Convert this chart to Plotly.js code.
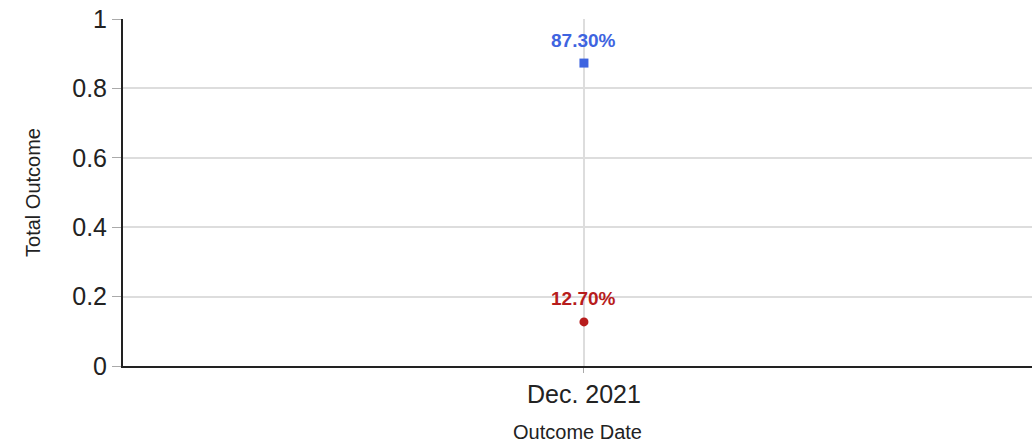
<!DOCTYPE html>
<html>
<head>
<meta charset="utf-8">
<script src="https://cdn.plot.ly/plotly-3.0.1.min.js"></script>
<style>html,body{margin:0;padding:0;background:#fff;}#chart{width:1032px;height:447px;}</style>
</head>
<body>
<div id="chart"></div>
<script>
const categories = ["Dec. 2021"];
const seriesA = [0.873];
const seriesB = [0.127];
const labelsA = ["87.30%"];
const labelsB = ["12.70%"];
const yTickVals = [0, 0.2, 0.4, 0.6, 0.8, 1];
const yTickText = ["0", "0.2", "0.4", "0.6", "0.8", "1"];

const font = "Liberation Sans, Arial, sans-serif";
const colorA = "#3e64e0";
const colorB = "#b71c1c";
const traces = [
  {
    x: categories, y: seriesA, type: "scatter", mode: "markers",
    marker: {symbol: "square", size: 9, color: colorA},
    cliponaxis: false, showlegend: false, hoverinfo: "none"
  },
  {
    x: categories, y: seriesB, type: "scatter", mode: "markers",
    marker: {symbol: "circle", size: 9, color: colorB},
    cliponaxis: false, showlegend: false, hoverinfo: "none"
  }
];
function labelAnnotations(xs, ys, texts, color) {
  return xs.map((x, i) => ({
    x: x, y: ys[i], text: texts[i], xref: "x", yref: "y",
    showarrow: false, yshift: 23,
    font: {family: font, size: 19, color: color, weight: "bold"}
  }));
}
const annotations = labelAnnotations(categories, seriesA, labelsA, colorA)
  .concat(labelAnnotations(categories, seriesB, labelsB, colorB));
const layout = {
  width: 1032, height: 447,
  margin: {l: 123, r: 0, t: 19, b: 81},
  paper_bgcolor: "#fff", plot_bgcolor: "#fff",
  font: {family: font, color: "#222"},
  annotations: annotations,
  xaxis: {
    type: "category", range: [-0.5, 0.486],
    showgrid: true, gridcolor: "#dddddd", gridwidth: 2,
    showline: true, linecolor: "#222", linewidth: 2,
    ticks: "outside", ticklen: 5, tickcolor: "#aaa",
    tickfont: {family: font, size: 25, color: "#222"},
    title: {text: "Outcome Date", font: {family: font, size: 20, color: "#222"}, standoff: 18},
    zeroline: false, fixedrange: true
  },
  yaxis: {
    range: [0, 1], tickvals: yTickVals, ticktext: yTickText,
    showgrid: true, gridcolor: "#dddddd", gridwidth: 2,
    showline: true, linecolor: "#222", linewidth: 2,
    ticks: "outside", ticklen: 9, tickcolor: "#aaa",
    tickfont: {family: font, size: 25, color: "#222"},
    title: {text: "Total Outcome", font: {family: font, size: 20, color: "#222"}, standoff: 26},
    zeroline: false, fixedrange: true
  }
};
Plotly.newPlot("chart", traces, layout, {displayModeBar: false, staticPlot: true});
</script>
</body>
</html>
